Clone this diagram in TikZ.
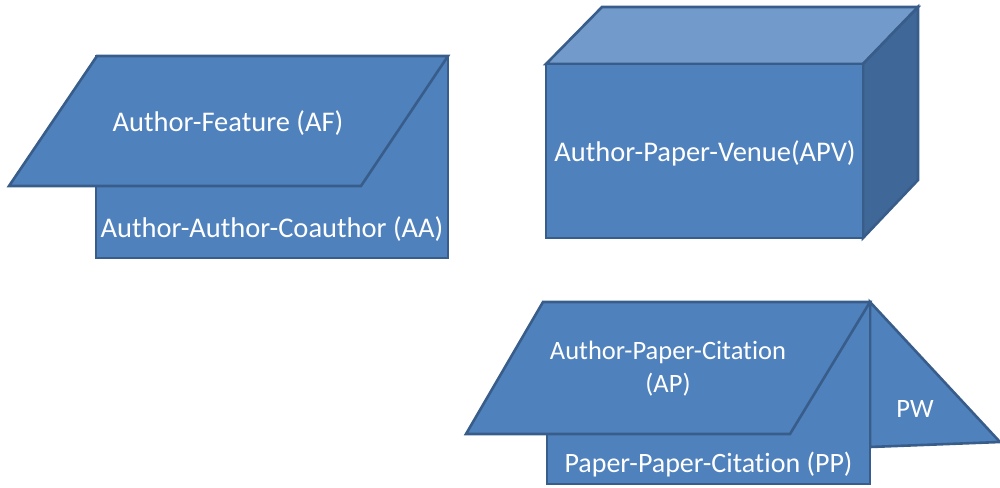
\documentclass[tikz,border=0pt]{standalone}
\usepackage{fontspec}
\setmainfont{Carlito}[Ligatures=NoCommon]
\definecolor{faceblue}{HTML}{4F81BD}
\definecolor{edgeblue}{HTML}{385D8A}
\definecolor{topblue}{HTML}{729ACA}
\definecolor{sideblue}{HTML}{3F6797}
\begin{document}
\begin{tikzpicture}[x=1pt,y=-1pt,
  face/.style={fill=faceblue,draw=edgeblue,line width=2.6pt,line join=miter},
  lbl/.style={text=white,font=\fontsize{28.5}{34}\selectfont,align=center,inner sep=0pt},
  smalllbl/.style={lbl,font=\fontsize{26.5}{33}\selectfont}]
\useasboundingbox (0,0) rectangle (1000,487);
% layered block: coauthor rectangle under the feature parallelogram
\draw[face] (96,56) rectangle (448,258);
\draw[face] (97,56) -- (448,56) -- (361,186) -- (9,186) -- cycle;
\node[lbl] (af) at (228,123) {Author-Feature (AF)};
\node[lbl] (aa) at (272,229) {Author-Author-Coauthor (AA)};
% venue cube
\draw[face,fill=topblue] (546,64) -- (602,7) -- (918,7) -- (863,64) -- cycle;
\draw[face,fill=sideblue] (863,64) -- (918,7) -- (918,180) -- (863,238) -- cycle;
\draw[face] (546,64) rectangle (863,238);
\node[lbl] (apv) at (705,153) {Author-Paper-Venue(APV)};
% citation block with word triangle
\draw[face] (870,302) -- (1000,442) -- (870,447) -- cycle;
\draw[face] (547,302) rectangle (870,484);
\draw[face] (543,302) -- (870,302) -- (790,434) -- (466,434) -- cycle;
\node[smalllbl] (ap) at (668,368.5) {Author-Paper-Citation\\(AP)};
\node[smalllbl] (pw) at (915,409) {PW};
\node[lbl,font=\fontsize{28}{33}\selectfont] (pp) at (708.5,465) {Paper-Paper-Citation (PP)};
\end{tikzpicture}
\end{document}
